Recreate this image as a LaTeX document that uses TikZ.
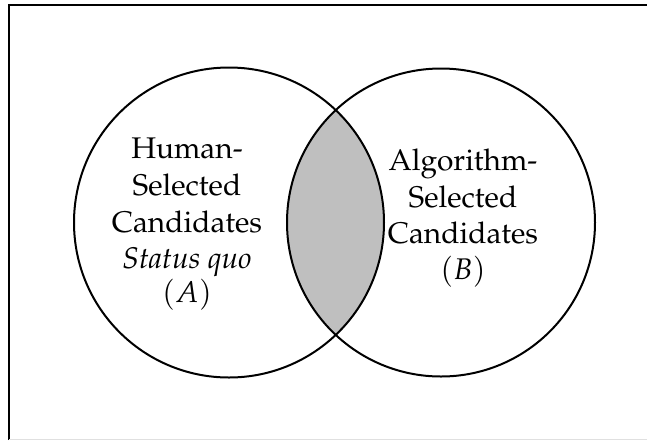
\documentclass[tikz,border=0pt]{standalone}
\usepackage[T1]{fontenc}
\usepackage{mathpazo}
\definecolor{overlapgray}{RGB}{191,191,191}
\tikzset{
  setline/.style={line width=1.5pt},
  lbl/.style={inner sep=0pt, anchor=base, font=\fontsize{22.4}{27}\selectfont}
}
\begin{document}
\begin{tikzpicture}[x=0.75pt,y=-0.75pt]
  \useasboundingbox (0,0) rectangle (647,440);
  % frame
  \draw[line width=1.5pt] (9,440) -- (9,5) -- (647,5);
  \draw[line width=0.75pt, black!12] (9,439.5) -- (647,439.5);
  % intersection of the two sets
  \begin{scope}
    \clip (229,222.5) circle[radius=155];
    \fill[overlapgray] (441,222.5) circle[radius=154];
  \end{scope}
  % the two sets
  \draw[setline] (229,222.5) circle[radius=155];
  \draw[setline] (441,222.5) circle[radius=154];
  % set A
  \node[lbl] (a1) at (187,158) {Human-};
  \node[lbl] (a2) at (187,195) {Selected};
  \node[lbl] (a3) at (187,232) {Candidates};
  \node[lbl] (a4) at (187,268) {\itshape Status quo};
  \node[lbl] (a5) at (187,302) {$(A)$};
  % set B
  \node[lbl] (b1) at (463,170) {Algorithm-};
  \node[lbl] (b2) at (463,207) {Selected};
  \node[lbl] (b3) at (463,243) {Candidates};
  \node[lbl] (b4) at (463,279) {$(B)$};
\end{tikzpicture}
\end{document}
